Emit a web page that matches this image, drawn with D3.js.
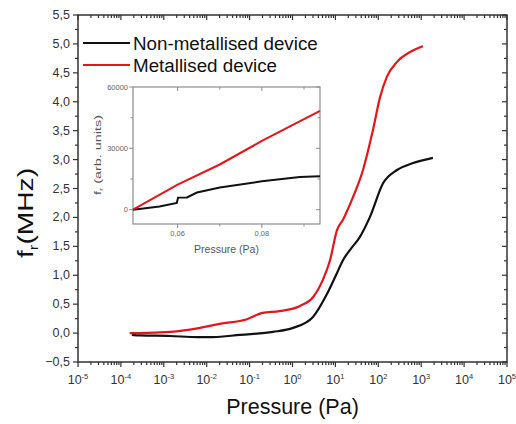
<!DOCTYPE html>
<html>
<head>
<meta charset="utf-8">
<script src="https://cdn.jsdelivr.net/npm/d3@7"></script>
<style>
  body { margin: 0; background: #fff; }
  text { font-family: "Liberation Sans", Arial, sans-serif; }
</style>
</head>
<body>
<svg id="chart" width="516" height="424"></svg>
<script>
// main chart: resonance frequency vs pressure (Pa)
const nonMetPressure = [1.8e-4, 2.8e-4, 1.4e-3, 6e-3, 1.4e-2, 6e-2, 0.35, 1.03, 3.0, 6.4, 10.9, 15, 22, 37, 64, 129, 273, 645, 1880];
const nonMetFreq     = [-0.03, -0.04, -0.05, -0.07, -0.07, -0.03, 0.02, 0.09, 0.28, 0.68, 1.04, 1.26, 1.44, 1.66, 2.01, 2.59, 2.82, 2.94, 3.03];
const metPressure = [1.6e-4, 2.8e-4, 1.4e-3, 7e-3, 2e-2, 8.7e-2, 0.2, 0.5, 1.5, 3.0, 5.1, 7.5, 10.9, 15, 25.7, 44, 75, 110, 158, 273, 550, 1100];
const metFreq     = [0.0, 0.0, 0.02, 0.09, 0.16, 0.24, 0.35, 0.38, 0.47, 0.62, 0.92, 1.26, 1.78, 1.96, 2.35, 2.82, 3.51, 4.08, 4.43, 4.69, 4.86, 4.96];

// inset: f_r (arb. units) vs pressure (Pa)
const insetNonMetP = [0.0494, 0.0557, 0.0598, 0.0601, 0.0622, 0.0646, 0.07, 0.08, 0.089, 0.0938];
const insetNonMetF = [0, 1600, 3300, 5900, 6000, 8400, 10800, 13900, 16000, 16400];
const insetMetP = [0.0494, 0.06, 0.07, 0.08, 0.0938];
const insetMetF = [0, 12300, 22100, 33600, 48300];

const yTicks = [-0.5, 0, 0.5, 1, 1.5, 2, 2.5, 3, 3.5, 4, 4.5, 5, 5.5];
const xExponents = [-5, -4, -3, -2, -1, 0, 1, 2, 3, 4, 5];
const insetYTicks = [0, 30000, 60000];
const insetXTicks = [0.06, 0.08];
const legendLabels = ["Non-metallised device", "Metallised device"];

const svg = d3.select("#chart");
const mLeft = 78, mRight = 507, mTop = 15, mBottom = 362;

const x = d3.scaleLog().domain([1e-5, 1e5]).range([mLeft, mRight]);
const y = d3.scaleLinear().domain([-0.5, 5.5]).range([mBottom, mTop]);
const comma = d => d3.format(".1f")(d).replace(".", ",");

const frameColor = "#333";

// minor ticks for log axis
const minorX = [];
for (let e = -5; e < 5; e++) for (let k = 2; k <= 9; k++) minorX.push(k * Math.pow(10, e));
const minorY = d3.range(-0.25, 5.5, 0.5);

const ax = svg.append("g").attr("stroke", frameColor).attr("stroke-width", 1.2);
// bottom ticks (outward) and top ticks (inward)
xExponents.forEach(e => {
  const px = x(Math.pow(10, e));
  ax.append("line").attr("x1", px).attr("x2", px).attr("y1", mBottom).attr("y2", mBottom + 5);
  ax.append("line").attr("x1", px).attr("x2", px).attr("y1", mTop).attr("y2", mTop + 5);
});
minorX.forEach(v => {
  const px = x(v);
  ax.append("line").attr("x1", px).attr("x2", px).attr("y1", mBottom).attr("y2", mBottom + 3);
  ax.append("line").attr("x1", px).attr("x2", px).attr("y1", mTop).attr("y2", mTop + 3);
});
// left ticks (outward), right ticks (inward)
yTicks.forEach(v => {
  ax.append("line").attr("x1", mLeft - 5).attr("x2", mLeft).attr("y1", y(v)).attr("y2", y(v));
  ax.append("line").attr("x1", mRight - 5).attr("x2", mRight).attr("y1", y(v)).attr("y2", y(v));
});
minorY.forEach(v => {
  ax.append("line").attr("x1", mLeft - 3).attr("x2", mLeft).attr("y1", y(v)).attr("y2", y(v));
  ax.append("line").attr("x1", mRight - 3).attr("x2", mRight).attr("y1", y(v)).attr("y2", y(v));
});
svg.append("rect")
  .attr("x", mLeft).attr("y", mTop)
  .attr("width", mRight - mLeft).attr("height", mBottom - mTop)
  .attr("fill", "none").attr("stroke", frameColor).attr("stroke-width", 1.5);

// tick labels
svg.append("g").selectAll("text").data(yTicks).enter().append("text")
  .attr("x", mLeft - 8).attr("y", d => y(d) + 4)
  .attr("text-anchor", "end").attr("font-size", 12.5).attr("fill", "#333")
  .text(d => comma(d));

const xl = svg.append("g").selectAll("text").data(xExponents).enter().append("text")
  .attr("x", d => x(Math.pow(10, d))).attr("y", 384)
  .attr("text-anchor", "middle").attr("font-size", 12.5).attr("fill", "#333");
xl.append("tspan").text("10");
xl.append("tspan").attr("dy", -5).attr("font-size", 7.5).text(d => String(d));

// axis titles
svg.append("text")
  .attr("x", (mLeft + mRight) / 2).attr("y", 414)
  .attr("text-anchor", "middle").attr("font-size", 21.5).attr("fill", "#111")
  .text("Pressure (Pa)");

const yt = svg.append("text")
  .attr("transform", "translate(33,213) rotate(-90)")
  .attr("text-anchor", "middle").attr("font-size", 22).attr("fill", "#111")
  .attr("textLength", 90).attr("lengthAdjust", "spacingAndGlyphs");
yt.append("tspan").text("f");
yt.append("tspan").attr("dy", 5).attr("font-size", 13).text("r");
yt.append("tspan").attr("dy", -5).text("(MHz)");

// inset frame and labels, drawn before the main curves
const iL = 133, iR = 320, iT = 87, iB = 224;
const ix = d3.scaleLinear().domain([0.0494, 0.0938]).range([iL, iR]);
const iy = d3.scaleLinear().domain([-7000, 60000]).range([iB, iT]);
const inset = svg.append("g");
const grey = "#8c8c8c";

inset.append("rect").attr("x", iL).attr("y", iT)
  .attr("width", iR - iL).attr("height", iB - iT)
  .attr("fill", "none").attr("stroke", grey).attr("stroke-width", 1.2);
const it = inset.append("g").attr("stroke", grey).attr("stroke-width", 1);
[0.06, 0.07, 0.08, 0.09].forEach((v, i) => {
  const len = i % 2 === 0 ? 4 : 2.5;
  it.append("line").attr("x1", ix(v)).attr("x2", ix(v)).attr("y1", iB).attr("y2", iB + len);
  it.append("line").attr("x1", ix(v)).attr("x2", ix(v)).attr("y1", iT).attr("y2", iT + len);
});
[0, 15000, 30000, 45000, 60000].forEach((v, i) => {
  const len = i % 2 === 0 ? 4 : 2.5;
  it.append("line").attr("x1", iL - len).attr("x2", iL).attr("y1", iy(v)).attr("y2", iy(v));
  it.append("line").attr("x1", iR - len).attr("x2", iR).attr("y1", iy(v)).attr("y2", iy(v));
});

inset.selectAll(".iyl").data(insetYTicks).enter().append("text")
  .attr("x", iL - 5).attr("y", d => iy(d) + 2.5)
  .attr("text-anchor", "end").attr("font-size", 7.5).attr("fill", "#666")
  .text(d => d);
inset.selectAll(".ixl").data(insetXTicks).enter().append("text")
  .attr("x", d => ix(d)).attr("y", iB + 12)
  .attr("text-anchor", "middle").attr("font-size", 7.5).attr("fill", "#666")
  .text(d => d3.format(".2f")(d).replace(".", ","));
inset.append("text").attr("x", (iL + iR) / 2).attr("y", 253)
  .attr("text-anchor", "middle").attr("font-size", 10.5).attr("fill", "#555")
  .text("Pressure (Pa)");
const iyt = inset.append("text")
  .attr("transform", "translate(101,155) rotate(-90)")
  .attr("text-anchor", "middle").attr("font-size", 9).attr("fill", "#555")
  .attr("textLength", 80).attr("lengthAdjust", "spacingAndGlyphs");
iyt.append("tspan").text("f");
iyt.append("tspan").attr("dy", 2).attr("font-size", 6).text("r");
iyt.append("tspan").attr("dy", -2).text(" (arb. units)");

const iline = d3.line().x(d => ix(d[0])).y(d => iy(d[1]));
inset.append("path").datum(d3.zip(insetNonMetP, insetNonMetF))
  .attr("d", iline).attr("fill", "none").attr("stroke", "#111").attr("stroke-width", 2);
inset.append("path").datum(d3.zip(insetMetP, insetMetF))
  .attr("d", iline).attr("fill", "none").attr("stroke", "#e3161b").attr("stroke-width", 2);

// main curves
const line = d3.line().x(d => x(d[0])).y(d => y(d[1])).curve(d3.curveMonotoneX);
svg.append("path").datum(d3.zip(nonMetPressure, nonMetFreq))
  .attr("d", line).attr("fill", "none").attr("stroke", "#111").attr("stroke-width", 2.2);
svg.append("path").datum(d3.zip(metPressure, metFreq))
  .attr("d", line).attr("fill", "none").attr("stroke", "#e3161b").attr("stroke-width", 2.2);

// legend
const legendColors = ["#111", "#e3161b"];
legendLabels.forEach((lab, i) => {
  const ly = 43 + i * 22;
  svg.append("line").attr("x1", 83).attr("x2", 130).attr("y1", ly).attr("y2", ly)
    .attr("stroke", legendColors[i]).attr("stroke-width", 2.2);
  svg.append("text").attr("x", 133).attr("y", ly + 6.5)
    .attr("font-size", 18.8).attr("fill", "#111").text(lab);
});
</script>
</body>
</html>
